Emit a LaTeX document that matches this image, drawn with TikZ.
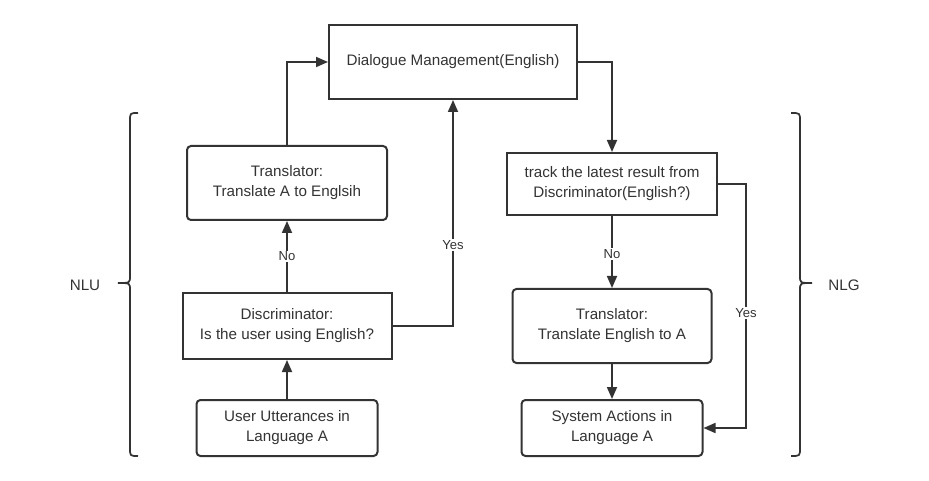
\documentclass[tikz,border=0pt]{standalone}
\usepackage{fontspec}
\setmainfont{Liberation Sans}
\usetikzlibrary{arrows.meta}
\definecolor{ink}{HTML}{333333}
\tikzset{
  box/.style={draw=ink, line width=1.5pt, text=ink, align=center, inner sep=0pt,
    font=\fontsize{11.4}{15}\selectfont},
  rbox/.style={box, rounded corners=3pt},
  conn/.style={draw=ink, line width=1.3pt, -{Triangle[length=9pt,width=7.5pt]}},
  lbl/.style={fill=white, text=ink, inner sep=1pt, font=\fontsize{9.8}{12}\selectfont},
  side/.style={text=ink, font=\fontsize{11.4}{14}\selectfont},
  brace/.style={draw=ink, line width=1.3pt}
}
\begin{document}
\begin{tikzpicture}[x=0.75pt, y=-0.75pt]
\useasboundingbox (0,0) rectangle (929,481);

\node[box, minimum width=186pt, minimum height=55.5pt] (dm) at (453,62) {Dialogue Management(English)};
\node[rbox, minimum width=150pt, minimum height=55.5pt] (trl) at (287,183) {Translator:\\Translate A to Englsih};
\node[box, minimum width=156.75pt, minimum height=49.5pt] (disc) at (287,326) {Discriminator:\\Is the user using English?};
\node[rbox, minimum width=135.75pt, minimum height=42pt] (util) at (287,428) {User Utterances in\\Language A};

\node[box, minimum width=157.5pt, minimum height=46.5pt] (track) at (612,184) {track the latest result from\\Discriminator(English?)};
\node[rbox, minimum width=149.25pt, minimum height=55.5pt] (trr) at (612,326) {Translator:\\Translate English to A};
\node[rbox, minimum width=135.75pt, minimum height=42pt] (sys) at (612,428) {System Actions in\\Language A};

\coordinate (yr) at (746,0);

\draw[conn] (util.north) -- (disc.south);
\draw[conn] (disc.north) -- node[lbl, pos=0.5] {No} (trl.south);
\draw[conn] (trl.north) |- (dm.west);
\draw[conn] (disc.east) -| node[lbl, pos=0.68] {Yes} (dm.south);
\draw[conn] (dm.east) -| (track.north);
\draw[conn] (track.south) -- node[lbl, pos=0.53] {No} (trr.north);
\draw[conn] (trr.south) -- (sys.north);
\draw[conn] (track.east) -| node[lbl, pos=0.764] {Yes} (yr |- sys.east) -- (sys.east);

% braces
\draw[brace] (138,113) .. controls (130,113) .. (130,121) -- (130,276)
  .. controls (130,283) .. (118,283) .. controls (130,283) .. (130,290)
  -- (130,448) .. controls (130,456) .. (138,456);
\draw[brace] (791,113) .. controls (800,113) .. (800,121) -- (800,276)
  .. controls (800,283) .. (812,283) .. controls (800,283) .. (800,290)
  -- (800,448) .. controls (800,456) .. (791,456);

\node[side] (nlu) at (85,285) {NLU};
\node[side] (nlg) at (844,285) {NLG};
\end{tikzpicture}
\end{document}
